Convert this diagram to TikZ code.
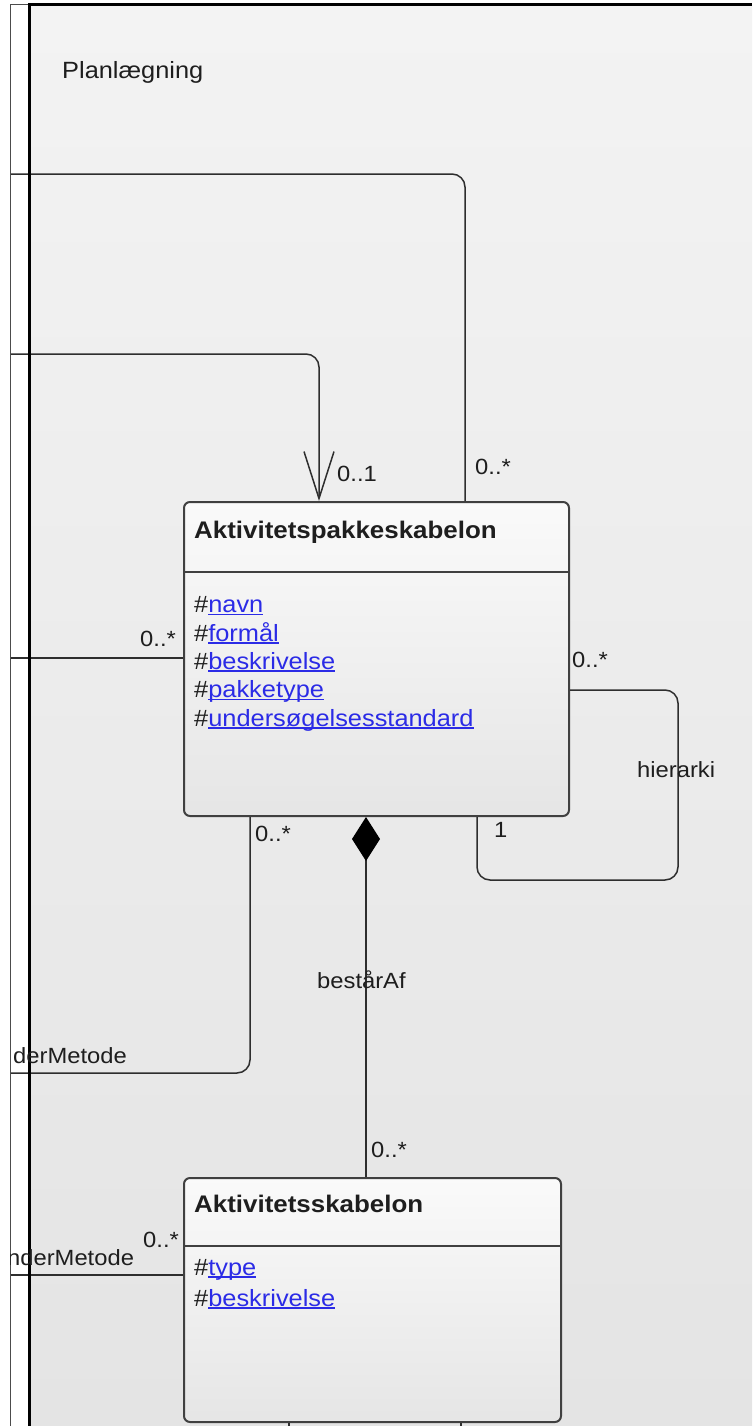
\documentclass[tikz,border=0pt]{standalone}
\usepackage{fontspec}
\setmainfont{Liberation Sans}[FakeStretch=1.08]
\usetikzlibrary{arrows.meta,shapes.geometric}
\definecolor{bgtop}{HTML}{F3F3F3}
\definecolor{bgbot}{HTML}{E4E4E4}
\definecolor{lnk}{HTML}{2B2BE6}
\definecolor{ink}{HTML}{1E1E1E}
\newcommand\lk[1]{{\color{lnk}\setbox0\hbox{#1}\rlap{\rule[-2.6pt]{\wd0}{1.3pt}}\box0}}
\begin{document}
\begin{tikzpicture}[x=1pt,y=-1pt,
  lbl/.style={anchor=base west, inner sep=0pt, text=ink, font=\fontsize{22}{26}\selectfont},
  attr/.style={anchor=base west, inner sep=0pt, text=ink, font=\fontsize{23.5}{28}\selectfont},
  ttl/.style={anchor=base west, inner sep=0pt, text=ink, font=\fontsize{24}{28}\selectfont\bfseries},
  conn/.style={draw=black!82, line width=1.5pt, rounded corners=13pt},
  cls/.style={draw=black!75, line width=2pt, rounded corners=6pt, top color=white!98!black, bottom color=white!90!black, inner sep=0pt},
  sep/.style={draw=black!75, line width=2pt}
]
\useasboundingbox (0,0) rectangle (752,1426);
\fill[white] (0,0) rectangle (752,1426);
\shade[top color=bgtop, bottom color=bgbot] (29,5) rectangle (752,1426);

% classes
\node[cls, anchor=north west, minimum width=385pt, minimum height=314pt] (AP) at (183,501) {};
\node[cls, anchor=north west, minimum width=377pt, minimum height=244pt] (AS) at (183,1177) {};
\draw[sep] (AP.west |- 0,572) -- (AP.east |- 0,572);
\draw[sep] (AS.west |- 0,1246) -- (AS.east |- 0,1246);

% free ends
\coordinate (e1) at (10,174);
\coordinate (e2) at (10,354);
\coordinate (e3) at (10,658);
\coordinate (e5) at (10,1073);
\coordinate (e7) at (10,1275);
\coordinate (b1) at (289,1426);
\coordinate (b2) at (461,1426);

% connectors
\draw[conn] (e1) -| (AP.north -| 465,0);
\draw[conn, -{Straight Barb[length=47pt, width=30pt, line width=1.5pt]}] (e2) -| (AP.north -| 319,0);
\draw[conn] (e3) -- (AP.west |- 0,658);
\draw[conn] (AP.east |- 0,690) -- (678,690) -- (678,880) -- (477,880) -- (AP.south -| 477,0);
\draw[conn] (AP.south -| 250,0) |- (e5);
\draw[conn, {Diamond[length=44pt, width=28pt, color=black]}-] (AP.south -| 366,0) -- (AS.north -| 366,0);
\draw[conn] (e7) -- (AS.west |- 0,1275);
\draw[conn] (AS.south -| b1) -- (b1);
\draw[conn] (AS.south -| b2) -- (b2);

% frame
\draw[black!70, line width=1pt] (10,1426) -- (10,5) -- (29,5);
\draw[black, line width=3pt] (29,1426) -- (29,5) -- (752,5);

% texts
\node[lbl, font=\fontsize{23.5}{28}\selectfont] (pkg) at (62,79) {Planlægning};
\node[ttl] (APt) at (194,538) {Aktivitetspakkeskabelon};
\node[attr] (a1) at (194,612.5) {\#\lk{navn}};
\node[attr] (a2) at (194,641) {\#\lk{formål}};
\node[attr] (a3) at (194,669) {\#\lk{beskrivelse}};
\node[attr] (a4) at (194,697.5) {\#\lk{pakketype}};
\node[attr] (a5) at (194,726) {\#\lk{undersøgelsesstandard}};
\node[ttl] (ASt) at (194,1212) {Aktivitetsskabelon};
\node[attr] (s1) at (194,1275) {\#\lk{type}};
\node[attr] (s2) at (194,1306) {\#\lk{beskrivelse}};

\node[lbl] (m1) at (337,481) {0..1};
\node[lbl] (m2) at (475,474) {0..*};
\node[lbl] (m3) at (140,646) {0..*};
\node[lbl] (m4) at (572,667) {0..*};
\node[lbl] (hi) at (637,777) {hierarki};
\node[lbl] (m5) at (494,837) {1};
\node[lbl] (m6) at (255,841) {0..*};
\node[lbl] (ba) at (317,988) {bestårAf};
\node[lbl] (m7) at (371,1157) {0..*};
\node[lbl] (m8) at (143,1247) {0..*};
\begin{scope}
\clip (10,0) rectangle (752,1426);
\node[lbl] (r1) at (13,1063) {derMetode};
\node[lbl] (r2) at (7,1265) {nderMetode};
\end{scope}
\end{tikzpicture}
\end{document}
